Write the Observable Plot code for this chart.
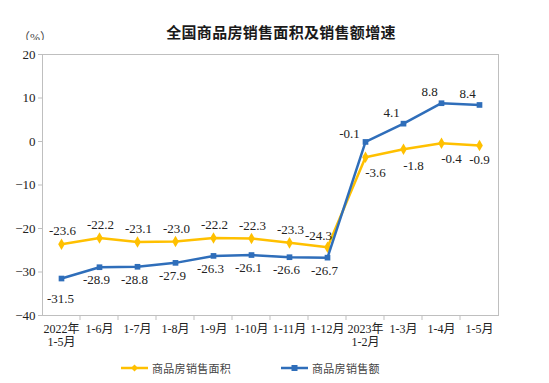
<!DOCTYPE html>
<html><head><meta charset="utf-8">
<script src="https://cdn.jsdelivr.net/npm/d3@7"></script>
<script src="https://cdn.jsdelivr.net/npm/@observablehq/plot@0.6"></script>
<style>
body{margin:0;background:#fff;}
#wrap{position:relative;width:549px;height:383px;overflow:hidden;background:#fff;}
#title{position:absolute;left:0;width:562px;top:21px;text-align:center;font:bold 15px "Noto Sans CJK SC",sans-serif;color:#1a1a1a;letter-spacing:0.3px;}
#unit{position:absolute;left:18px;top:28px;font:12px 'Liberation Serif','Noto Sans CJK SC',serif;color:#444;}
#chart{position:absolute;left:0;top:40px;}
#chart svg text{font-family:'Liberation Serif','Noto Sans CJK SC',serif;}
#legend{position:absolute;left:0;top:360px;width:549px;height:18px;font:11px "Noto Sans CJK SC",sans-serif;color:#444;}
.lg{position:absolute;top:0;display:flex;align-items:center;height:16px;}
.lg svg{margin-right:4px;}
</style>
</head><body>
<div id="wrap">
  <div id="title">全国商品房销售面积及销售额增速</div>
  <div id="unit">（%）</div>
  <div id="chart"></div>
  <div id="legend"></div>
</div>
<script>
const categories = ["2022年\n1-5月","1-6月","1-7月","1-8月","1-9月","1-10月","1-11月","1-12月","2023年\n1-2月","1-3月","1-4月","1-5月"];
const areaGrowth = [-23.6,-22.2,-23.1,-23.0,-22.2,-22.3,-23.3,-24.3,-3.6,-1.8,-0.4,-0.9];
const salesGrowth = [-31.5,-28.9,-28.8,-27.9,-26.3,-26.1,-26.6,-26.7,-0.1,4.1,8.8,8.4];
const yTicks = [20,10,0,-10,-20,-30,-40];
const seriesNames = ["商品房销售面积","商品房销售额"];

const YELLOW = "#FFC000", BLUE = "#2F6EBA";
const area = categories.map((c,i)=>({c, v: areaGrowth[i], i}));
const sales = categories.map((c,i)=>({c, v: salesGrowth[i], i}));
const fmt = v => v.toFixed(1);
const numFont = {fontFamily:"'Liberation Serif', serif", fontSize:13, fill:"#222"};

const boundaryTicks = (index, scales, values, dims) => {
  const x = scales.x;
  const step = x(categories[1]) - x(categories[0]);
  const y0 = dims.height - dims.marginBottom;
  const g = d3.create("svg:g").attr("stroke","#BFBFBF");
  categories.slice(1).forEach(c => {
    const xx = x(c) - step/2;
    g.append("line").attr("x1",xx).attr("x2",xx).attr("y1",y0).attr("y2",y0+5);
  });
  return g.node();
};

const chart = Plot.plot({
  width: 549, height: 315,
  marginLeft: 42, marginRight: 51, marginTop: 14, marginBottom: 40,
  style: {fontFamily: "'Liberation Serif', 'Noto Sans CJK SC', serif", fontSize: "13px", color: "#222", background: "#fff"},
  x: {type: "point", domain: categories, padding: 0.5, label: null},
  y: {domain: [-40, 20], label: null},
  marks: [
    Plot.frame({stroke: "#BFBFBF"}),
    Plot.axisY({ticks: yTicks, tickSize: 4, tickPadding: 3, stroke: "#BFBFBF", label: null, fontSize: 13, fill:"#222"}),
    Plot.axisX({tickSize: 0, tickPadding: 8, label: null, fontSize: 12, lineHeight: 1.08, fill:"#222"}),
    boundaryTicks,
    Plot.line(area, {x: "c", y: "v", stroke: YELLOW, strokeWidth: 2.5}),
    Plot.dot(area, {x: "c", y: "v", fill: YELLOW, symbol: "diamond", r: 3.5}),
    Plot.line(sales, {x: "c", y: "v", stroke: BLUE, strokeWidth: 2.5}),
    Plot.dot(sales, {x: "c", y: "v", fill: BLUE, symbol: "square", r: 3.2}),
    // area labels: above for 2022, below for 2023
    Plot.text(area.filter(d=>d.i<7), {x:"c", y:"v", text: d=>fmt(d.v), dy:-13, dx:1, ...numFont}),
    Plot.text(area.filter(d=>d.i==7), {x:"c", y:"v", text: d=>fmt(d.v), dy:-11, dx:-9, ...numFont}),
    Plot.text(area.filter(d=>d.i>=8 && d.i<11), {x:"c", y:"v", text: d=>fmt(d.v), dy:16, dx:10, ...numFont}),
    Plot.text(area.filter(d=>d.i==11), {x:"c", y:"v", text: d=>fmt(d.v), dy:14, dx:0, ...numFont}),
    // sales labels: below for 2022, above for 2023
    Plot.text(sales.filter(d=>d.i==0), {x:"c", y:"v", text: d=>fmt(d.v), dy:20, dx:-1, ...numFont}),
    Plot.text(sales.filter(d=>d.i>0 && d.i<8), {x:"c", y:"v", text: d=>fmt(d.v), dy:13, dx:-3, ...numFont}),
    Plot.text(sales.filter(d=>d.i==8), {x:"c", y:"v", text: d=>fmt(d.v), dy:-8, dx:-16, ...numFont}),
    Plot.text(sales.filter(d=>d.i>8), {x:"c", y:"v", text: d=>fmt(d.v), dy:-11, dx:-12, ...numFont})
  ]
});
document.getElementById("chart").appendChild(chart);

// legend
const legend = document.getElementById("legend");
const items = [
  {name: seriesNames[0], color: YELLOW, shape: "diamond", left: 121},
  {name: seriesNames[1], color: BLUE, shape: "square", left: 281}
];
items.forEach(it => {
  const div = document.createElement("div");
  div.className = "lg";
  div.style.left = it.left + "px";
  const s = d3.create("svg").attr("width", 27).attr("height", 16);
  s.append("line").attr("x1",0).attr("x2",27).attr("y1",8).attr("y2",8).attr("stroke",it.color).attr("stroke-width",2.5);
  if (it.shape === "diamond") s.append("path").attr("d","M13.5,4.5L17,8L13.5,11.5L10,8Z").attr("fill",it.color);
  else s.append("rect").attr("x",10.5).attr("y",5).attr("width",6).attr("height",6).attr("fill",it.color);
  div.appendChild(s.node());
  const t = document.createElement("span");
  t.textContent = it.name;
  t.style.letterSpacing = "0.3px";
  div.appendChild(t);
  legend.appendChild(div);
});
</script>
</body></html>
